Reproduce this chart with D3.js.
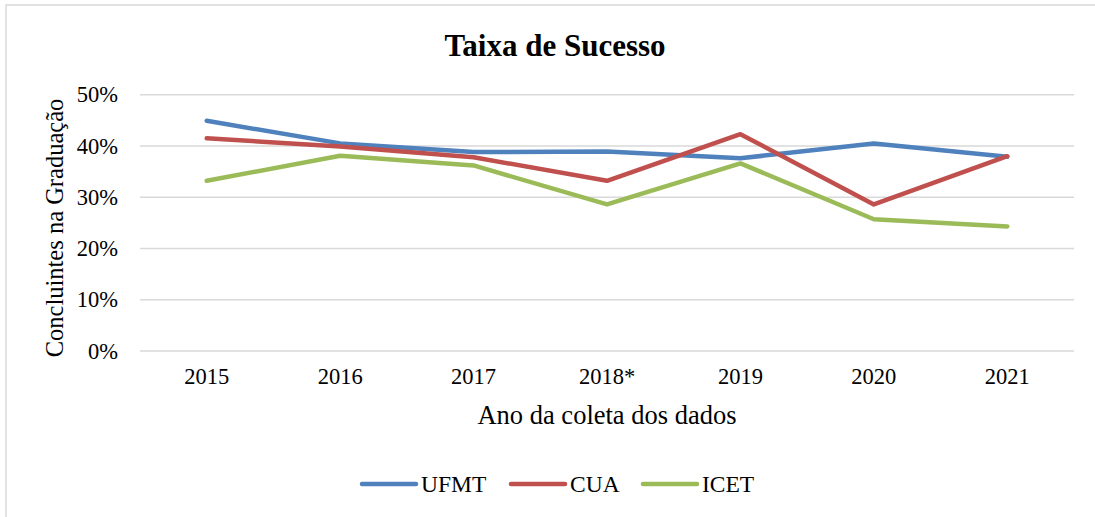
<!DOCTYPE html>
<html><head><meta charset="utf-8">
<script src="https://cdn.jsdelivr.net/npm/d3@7"></script>
<style>body{margin:0;background:#fff}svg{display:block}
svg text{font-family:"Liberation Serif","Times New Roman",Times,"DejaVu Serif",serif;}</style>
</head><body>
<svg id="c" width="1095" height="517"></svg>
<script>
const categories = ["2015","2016","2017","2018*","2019","2020","2021"];
const ufmt = [0.449,0.405,0.388,0.389,0.376,0.405,0.379];
const cua  = [0.415,0.399,0.378,0.332,0.423,0.286,0.380];
const icet = [0.332,0.381,0.362,0.286,0.366,0.257,0.243];
const yTicks = [0,0.1,0.2,0.3,0.4,0.5];
const seriesNames = ["UFMT","CUA","ICET"];
const colors = ["#4F81BD","#C0504D","#9BBB59"];
const seriesData = [ufmt, cua, icet];

(function(){
const svg = d3.select("#c");
svg.append("rect").attr("x",6).attr("y",5).attr("width",1100).attr("height",520)
  .attr("fill","#fff").attr("stroke","#d9d9d9").attr("stroke-width",1.5);

const pLeft=140, pRight=1074, pTop=94.7, pBottom=351;
const x = d3.scaleBand().domain(categories).range([pLeft,pRight]);
const y = d3.scaleLinear().domain([0,0.5]).range([pBottom,pTop]);

svg.append("g").selectAll("line").data(yTicks).join("line")
  .attr("x1",pLeft).attr("x2",pRight).attr("y1",d=>y(d)).attr("y2",d=>y(d))
  .attr("stroke","#d9d9d9").attr("stroke-width",1.5);

const yAxis = svg.append("g").attr("transform",`translate(${pLeft},0)`)
  .call(d3.axisLeft(y).tickValues(yTicks).tickFormat(d3.format(".0%")).tickSize(0).tickPadding(22));
yAxis.select(".domain").remove();
yAxis.attr("font-family",null);
yAxis.selectAll("text").attr("font-size",22.5).attr("fill","#000");

const xAxis = svg.append("g").attr("transform",`translate(0,${pBottom})`)
  .call(d3.axisBottom(x).tickSize(0).tickPadding(17));
xAxis.select(".domain").remove();
xAxis.attr("font-family",null);
xAxis.selectAll("text").attr("font-size",22.5).attr("fill","#000");

const line = d3.line().x((d,i)=>x(categories[i])+x.bandwidth()/2).y(d=>y(d));
seriesData.forEach((s,k)=>{
  svg.append("path").datum(s).attr("d",line).attr("fill","none")
    .attr("stroke",colors[k]).attr("stroke-width",4.5)
    .attr("stroke-linejoin","round").attr("stroke-linecap","round");
});

svg.append("text").attr("x",555).attr("y",56).attr("text-anchor","middle")
  .attr("font-weight","bold").attr("font-size",31).text("Taixa de Sucesso");
svg.append("text").attr("x",607).attr("y",424).attr("text-anchor","middle")
  .attr("font-size",26.5).text("Ano da coleta dos dados");
svg.append("text").attr("transform","translate(63,228) rotate(-90)").attr("text-anchor","middle")
  .attr("font-size",24.5).text("Concluintes na Graduação");

const legX = [362,511,643];
seriesNames.forEach((n,k)=>{
  svg.append("line").attr("x1",legX[k]).attr("x2",legX[k]+54).attr("y1",484).attr("y2",484)
    .attr("stroke",colors[k]).attr("stroke-width",4.5).attr("stroke-linecap","round");
  svg.append("text").attr("x",legX[k]+59).attr("y",492).attr("font-size",23.5).text(n);
});
})();
</script>
</body></html>
